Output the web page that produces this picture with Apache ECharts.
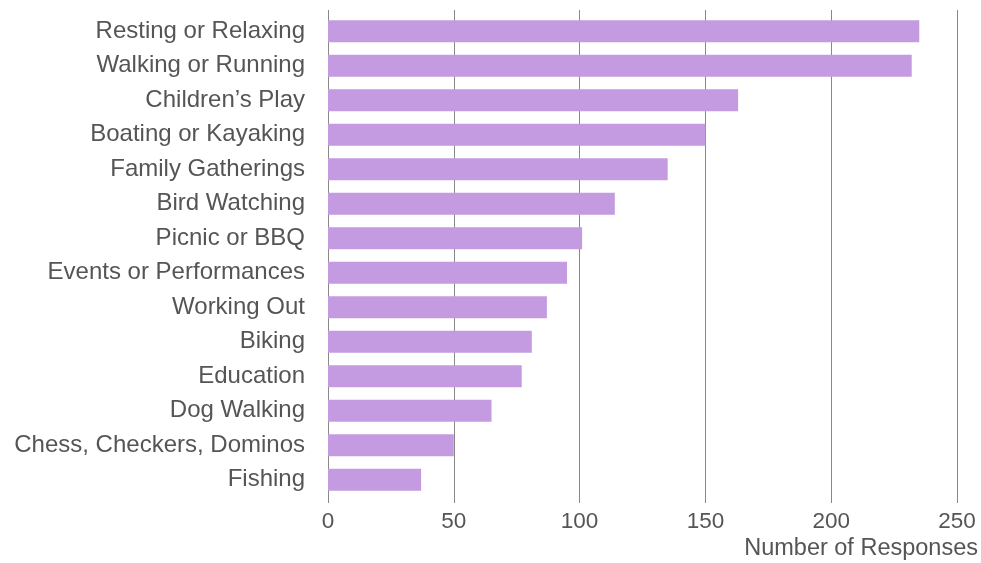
<!DOCTYPE html>
<html>
<head>
<meta charset="utf-8">
<script src="https://cdn.jsdelivr.net/npm/echarts@6/dist/echarts.min.js"></script>
<style>
  html, body { margin: 0; padding: 0; background: #fff; }
  #chart { width: 981px; height: 563px; }
</style>
</head>
<body>
<div id="chart"></div>
<script>
const categories = [
  'Resting or Relaxing', 'Walking or Running', 'Children\u2019s Play', 'Boating or Kayaking',
  'Family Gatherings', 'Bird Watching', 'Picnic or BBQ', 'Events or Performances',
  'Working Out', 'Biking', 'Education', 'Dog Walking', 'Chess, Checkers, Dominos', 'Fishing'
]
const responses = [235, 232, 163, 150, 135, 114, 101, 95, 87, 81, 77, 65, 50, 37]
const xTicks = [0, 50, 100, 150, 200, 250]

const font = '"Liberation Sans", Arial, sans-serif'
const chart = echarts.init(document.getElementById('chart'))

chart.setOption({
  backgroundColor: '#ffffff',
  animation: false,
  title: {
    text: 'Number of Responses',
    right: 3,
    top: 537,
    padding: 0,
    textStyle: { color: '#555555', fontSize: 23.5, fontWeight: 'normal', fontFamily: font },
  },
  grid: { left: 328, right: 24, top: 14, bottom: 66 },
  xAxis: [{
    type: 'value',
    min: xTicks[0],
    max: xTicks[xTicks.length - 1],
    interval: 50,
    axisLine: { show: false },
    axisTick: { show: true, length: 6, lineStyle: { color: '#888888' } },
    axisLabel: { color: '#555555', fontSize: 22.5, fontFamily: font, margin: 13 },
    splitLine: { show: true, lineStyle: { color: '#888888', width: 1 } },
  }, {
    type: 'value',
    position: 'top',
    min: xTicks[0],
    max: xTicks[xTicks.length - 1],
    interval: 50,
    axisLine: { show: false },
    axisTick: { show: true, length: 4, lineStyle: { color: '#888888' } },
    axisLabel: { show: false },
    splitLine: { show: false },
  }],
  yAxis: {
    type: 'category',
    data: categories,
    inverse: true,
    axisLine: { show: false },
    axisTick: { show: false },
    axisLabel: { color: '#555555', fontSize: 24, fontFamily: font, margin: 23 },
  },
  series: [{
    type: 'bar',
    data: responses,
    barCategoryGap: '36%',
    itemStyle: { color: '#c49be0' },
  }],
})
</script>
</body>
</html>
